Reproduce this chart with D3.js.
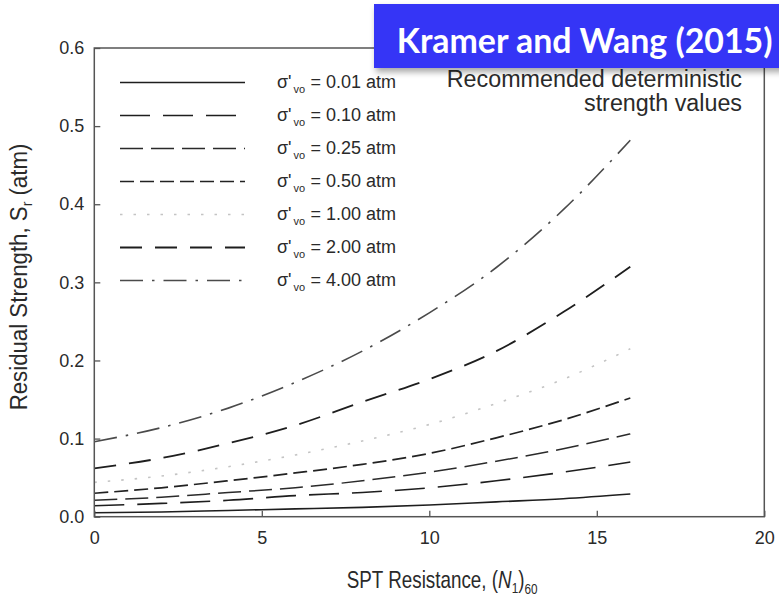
<!DOCTYPE html>
<html><head><meta charset="utf-8">
<script src="https://cdn.jsdelivr.net/npm/d3@7"></script>
<style>html,body{margin:0;padding:0;background:#fff;} svg{display:block;}</style>
</head><body>
<script>
// ---- data ----
const nValues   = [0, 2, 4, 6, 8, 10, 12, 14, 16];
const stressLabels = ["0.01", "0.10", "0.25", "0.50", "1.00", "2.00", "4.00"];
const sr001 = [0.005, 0.006, 0.008, 0.010, 0.012, 0.015, 0.019, 0.023, 0.029];
const sr010 = [0.014, 0.017, 0.021, 0.027, 0.031, 0.037, 0.046, 0.057, 0.070];
const sr025 = [0.021, 0.025, 0.031, 0.037, 0.046, 0.057, 0.071, 0.087, 0.106];
const sr050 = [0.030, 0.037, 0.046, 0.056, 0.067, 0.081, 0.101, 0.124, 0.152];
const sr100 = [0.044, 0.052, 0.064, 0.079, 0.097, 0.118, 0.145, 0.176, 0.215];
const sr200 = [0.062, 0.075, 0.094, 0.117, 0.147, 0.176, 0.212, 0.262, 0.320];
const sr400 = [0.096, 0.114, 0.139, 0.172, 0.212, 0.261, 0.319, 0.393, 0.482];
const seriesValues = [sr001, sr010, sr025, sr050, sr100, sr200, sr400];
const xTicks = [0, 5, 10, 15, 20];
const yTicks = [0.0, 0.1, 0.2, 0.3, 0.4, 0.5, 0.6];
const xDomain = [0, 20];
const yDomain = [0, 0.6];

// ---- styles (separate from data) ----
const lineStyles = [
  {dash: null,          color: "#1e1e1e", w: 1.6},
  {dash: "30,13",       color: "#1e1e1e", w: 1.6},
  {dash: "23,8",        color: "#2a2a2a", w: 1.5},
  {dash: "14,6",        color: "#222",    w: 1.7},
  {dash: "2.5,11",      color: "#c4c4c4", w: 1.6},
  {dash: "22,13",       color: "#1e1e1e", w: 1.8},
  {dash: "23,9,2.5,9",  color: "#4a4a4a", w: 1.6}
];

const W = 779, H = 606;
const svg = d3.select("body").append("svg").attr("width", W).attr("height", H)
  .style("font-family", "'Liberation Sans', Arial, sans-serif");

const x = d3.scaleLinear().domain(xDomain).range([94.3, 764.3]);
const y = d3.scaleLinear().domain(yDomain).range([516.7, 48]);

// curves
const line = d3.line().x(d => x(d[0])).y(d => y(d[1])).curve(d3.curveMonotoneX);
const gCurves = svg.append("g");
seriesValues.forEach((vals, i) => {
  const st = lineStyles[i];
  gCurves.append("path")
    .attr("d", line(nValues.map((n, j) => [n, vals[j]])))
    .attr("fill", "none").attr("stroke", st.color).attr("stroke-width", st.w)
    .attr("stroke-dasharray", st.dash);
});

// axes with inward ticks
const yAxis = svg.append("g").attr("transform", `translate(${x(0)},0)`)
  .call(d3.axisLeft(y).tickValues(yTicks).tickFormat(d3.format(".1f")).tickSize(-6).tickPadding(10));
const xAxis = svg.append("g").attr("transform", `translate(0,${y(0)})`)
  .call(d3.axisBottom(x).tickValues(xTicks).tickFormat(d3.format("d")).tickSize(-6).tickPadding(15));
[yAxis, xAxis].forEach(g => {
  g.select(".domain").remove();
  g.selectAll(".tick line").attr("stroke", "#555").attr("stroke-width", 1.3);
  g.selectAll(".tick text").attr("fill", "#2a2a2a").style("font-size", "18px")
    .style("font-family", "'Liberation Sans', Arial, sans-serif");
});

// frame
svg.append("rect").attr("x", x(0)).attr("y", y(0.6))
  .attr("width", x(20) - x(0)).attr("height", y(0) - y(0.6))
  .attr("fill", "none").attr("stroke", "#555").attr("stroke-width", 1.5);

// legend
const legendG = svg.append("g");
stressLabels.forEach((lab, i) => {
  const st = lineStyles[i];
  const base = 88.3 + i * 33;
  const ly = base - 5.8;
  legendG.append("line").attr("x1", 120).attr("x2", 245).attr("y1", ly).attr("y2", ly)
    .attr("stroke", st.color).attr("stroke-width", st.w).attr("stroke-dasharray", st.dash);
  const t = legendG.append("text").attr("fill", "#2a2a2a").style("font-size", "18px");
  t.append("tspan").attr("x", 277).attr("y", base).text("σ'");
  t.append("tspan").attr("x", 293.5).attr("y", base + 5).style("font-size", "11px").text("vo");
  t.append("tspan").attr("x", 310.5).attr("y", base).text("= " + lab + " atm");
});

// annotation
svg.append("text").attr("x", 742).attr("y", 87).attr("text-anchor", "end")
  .attr("fill", "#2a2a2a").style("font-size", "23.3px").text("Recommended deterministic");
svg.append("text").attr("x", 742).attr("y", 111).attr("text-anchor", "end")
  .attr("fill", "#2a2a2a").style("font-size", "23.3px").text("strength values");

// axis titles
const xt = svg.append("text").attr("fill", "#2a2a2a").style("font-size", "24px");
xt.append("tspan").text("SPT Resistance, (");
xt.append("tspan").style("font-style", "italic").text("N");
xt.append("tspan").style("font-size", "15px").attr("dy", 5).text("1");
xt.append("tspan").attr("dy", -5).text(")");
xt.append("tspan").style("font-size", "15px").attr("dy", 6).text("60");
{
  const w = xt.node().getBBox().width;
  const s = 191 / w;
  xt.attr("transform", `translate(346.7,588) scale(${s},1)`);
}

const yt = svg.append("text").attr("fill", "#2a2a2a").style("font-size", "24px")
  .attr("text-anchor", "middle");
yt.append("tspan").text("Residual Strength, S");
yt.append("tspan").style("font-size", "15px").attr("dy", 5).text("r");
yt.append("tspan").attr("dy", -5).text(" (atm)");
{
  const w = yt.node().getBBox().width;
  const s = 267 / w;
  yt.attr("transform", `translate(27,277) rotate(-90) scale(${s},1)`);
}

// title box
const defs = svg.append("defs");
const f = defs.append("filter").attr("id", "sh").attr("x", "-10%").attr("y", "-10%")
  .attr("width", "130%").attr("height", "150%");
f.append("feDropShadow").attr("dx", 2).attr("dy", 4).attr("stdDeviation", 3)
  .attr("flood-color", "#000").attr("flood-opacity", 0.35);
svg.append("rect").attr("x", 374).attr("y", 4).attr("width", 420).attr("height", 64)
  .attr("fill", "#3636f6").attr("filter", "url(#sh)");
const tt = svg.append("text").attr("fill", "#fff")
  .style("font-family", "Lato, 'Open Sans', sans-serif").style("font-weight", 700)
  .style("font-size", "35px").text("Kramer and Wang (2015)");
{
  const w = tt.node().getBBox().width;
  const s = 376 / w;
  tt.attr("transform", `translate(396.7,53) scale(${s},1)`);
}
</script>
</body></html>
